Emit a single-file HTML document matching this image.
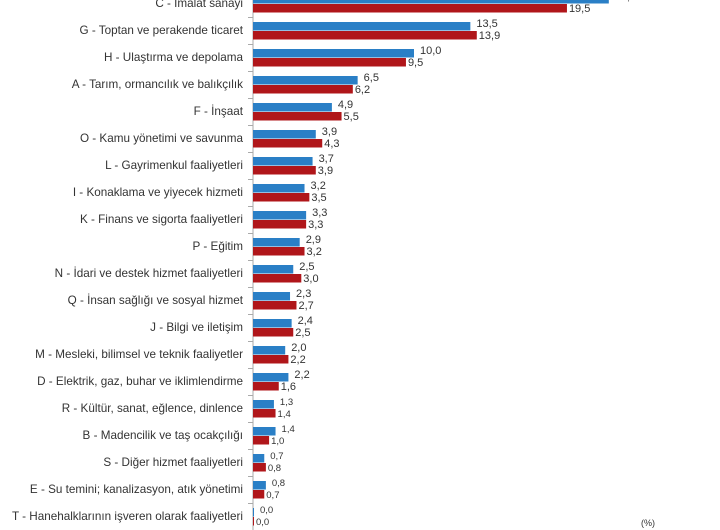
<!DOCTYPE html>
<html><head><meta charset="utf-8"><style>
html,body{margin:0;padding:0;background:#fff;width:720px;height:530px;overflow:hidden}
svg{display:block}
text{font-family:"Liberation Sans",sans-serif;font-size:11px;fill:#333}
text.l{font-size:11.7px}
</style></head><body>
<svg width="720" height="530" viewBox="0 0 720 530" xmlns="http://www.w3.org/2000/svg">
<g id="c"></g>
<text x="648" y="526" text-anchor="middle" style="font-size:9px">(%)</text>
</svg>
<script>
const d=[["C - İmalat sanayi",22.1,19.5],["G - Toptan ve perakende ticaret",13.5,13.9],["H - Ulaştırma ve depolama",10.0,9.5],["A - Tarım, ormancılık ve balıkçılık",6.5,6.2],["F - İnşaat",4.9,5.5],["O - Kamu yönetimi ve savunma",3.9,4.3],["L - Gayrimenkul faaliyetleri",3.7,3.9],["I - Konaklama ve yiyecek hizmeti",3.2,3.5],["K - Finans ve sigorta faaliyetleri",3.3,3.3],["P - Eğitim",2.9,3.2],["N - İdari ve destek hizmet faaliyetleri",2.5,3.0],["Q - İnsan sağlığı ve sosyal hizmet",2.3,2.7],["J - Bilgi ve iletişim",2.4,2.5],["M - Mesleki, bilimsel ve teknik faaliyetler",2.0,2.2],["D - Elektrik, gaz, buhar ve iklimlendirme ",2.2,1.6],["R - Kültür, sanat, eğlence, dinlence",1.3,1.4],["B - Madencilik ve taş ocakçılığı",1.4,1.0],["S - Diğer hizmet faaliyetleri",0.7,0.8],["E - Su temini; kanalizasyon, atık yönetimi",0.8,0.7],["T - Hanehalklarının işveren olarak faaliyetleri",0.0,0.0]];
const x0=253,k=16.1;let s='<line x1="253" y1="0" x2="253" y2="530" stroke="#aaa" stroke-width="1"/>';
const f=v=>v.toFixed(1).replace('.',',');
d.forEach((r,i)=>{const t=-5+27*i;
s+=`<line x1="248" y1="${t-4.5}" x2="253" y2="${t-4.5}" stroke="#aaa"/>`;
s+=`<text class="l" x="243" y="${t+12}" text-anchor="end">${r[0]}</text>`;
const w1=Math.max(r[1]*k,1),w2=Math.max(r[2]*k,1);
s+=`<rect x="${x0}" y="${t}" width="${w1}" height="8.5" fill="#2a7fc6"/>`;
s+=`<rect x="${x0}" y="${t+9}" width="${w2}" height="8.5" fill="#b0161a"/>`;
const fs=r[1]<2?'font-size:9.5px':'';
s+=`<text x="${x0+w1+6}" y="${t+5}" style="${fs}">${f(r[1])}</text>`;
s+=`<text x="${x0+w2+2}" y="${t+17}" style="${fs}">${f(r[2])}</text>`;
});
document.getElementById('c').innerHTML=s;
</script>
</body></html>
